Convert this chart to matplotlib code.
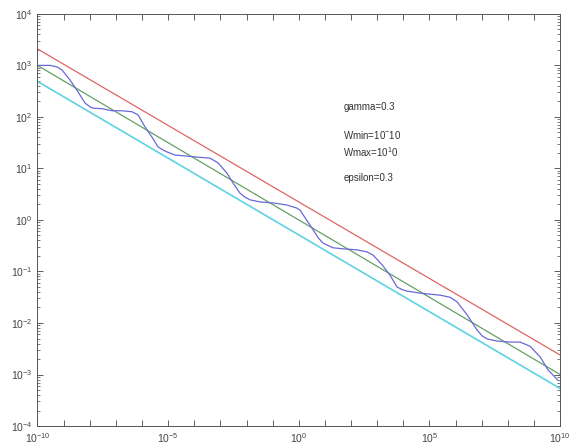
import numpy as np
import matplotlib
matplotlib.use("Agg")
import matplotlib.pyplot as plt
from matplotlib.ticker import FixedLocator, NullLocator, LogLocator

plt.rcParams["font.family"] = ["Liberation Sans", "DejaVu Sans"]
plt.rcParams["mathtext.fontset"] = "custom"
plt.rcParams["mathtext.rm"] = "Liberation Sans"
plt.rcParams["mathtext.default"] = "regular"

# straight bounds, read at both ends (log10 values)
line_log_x = [-10, 10]
red_log_y = [3.32, -2.62]
green_log_y = [3.0, -3.0]
cyan_log_y = [2.69, -3.27]

# oscillating curve (log10 values)
blue_log_x = [-10.0, -9.52, -9.25, -9.06, -8.76, -8.49, -8.18, -8.0, -7.88, -7.53, -7.15, -6.77,
              -6.38, -6.15, -5.89, -5.62, -5.39, -5.2, -5.04, -4.74, -4.28, -3.89, -3.40,
              -3.09, -2.75, -2.52, -2.25, -2.05, -1.86, -1.48, -0.98, -0.45, -0.07, 0.05,
              0.35, 0.55, 0.75, 0.93, 1.31, 1.69, 2.23, 2.61, 2.84, 3.19, 3.49,
              3.76, 3.95, 4.14, 4.64, 5.02, 5.41, 5.79, 6.06, 6.44, 6.83, 7.02, 7.21,
              7.59, 8.09, 8.47, 8.85, 9.24, 9.54, 9.9]
blue_log_y = [3.0, 3.0, 2.97, 2.91, 2.72, 2.52, 2.27, 2.20, 2.17, 2.16, 2.12, 2.12,
              2.10, 2.04, 1.81, 1.61, 1.42, 1.36, 1.32, 1.26, 1.24, 1.22, 1.20,
              1.11, 0.91, 0.72, 0.52, 0.44, 0.39, 0.35, 0.33, 0.29, 0.23, 0.19,
              -0.04, -0.19, -0.35, -0.45, -0.54, -0.56, -0.58, -0.62, -0.68, -0.87, -1.07,
              -1.30, -1.35, -1.38, -1.42, -1.44, -1.46, -1.50, -1.59, -1.84, -2.14, -2.25, -2.31,
              -2.35, -2.37, -2.37, -2.45, -2.66, -2.91, -3.10]

notes = ["gamma=0.3", r"Wmin=10$^{-}$10", r"Wmax=10$^{1}$0", "epsilon=0.3"]
note_y = [0.774, 0.706, 0.665, 0.602]

x_major = [-10, -5, 0, 5, 10]

fig = plt.figure(figsize=(5.73, 4.48), dpi=100)
ax = fig.add_axes([0.0654, 0.049, 0.912, 0.920])

lx = 10.0 ** np.array(line_log_x)
ax.plot(lx, 10.0 ** np.array(red_log_y), color="#e06464", lw=0.9)
ax.plot(lx, 10.0 ** np.array(green_log_y), color="#64a064", lw=0.9)
ax.plot(lx, 10.0 ** np.array(cyan_log_y), color="#5ed2e2", lw=1.2)
ax.plot(10.0 ** np.array(blue_log_x), 10.0 ** np.array(blue_log_y), color="#6868d8", lw=0.9)

ax.set_xscale("log")
ax.set_yscale("log")
ax.set_xlim(1e-10, 1e10)
ax.set_ylim(1e-4, 1e4)

ax.xaxis.set_major_locator(FixedLocator(10.0 ** np.arange(-10, 11)))
ax.xaxis.set_minor_locator(NullLocator())
ax.set_xticklabels([r"$10^{%d}$" % e if e in x_major else "" for e in range(-10, 11)])
ax.yaxis.set_major_locator(FixedLocator(10.0 ** np.arange(-4, 5)))
ax.yaxis.set_minor_locator(LogLocator(base=10, subs=np.arange(2, 10), numticks=20))
ax.set_yticklabels([r"$10^{%d}$" % e for e in range(-4, 5)])

ax.tick_params(which="both", direction="in", top=True, right=True,
               labelsize=7.5, colors="#444444")
ax.tick_params(which="major", length=4, width=0.6)
ax.tick_params(which="minor", length=2, width=0.5)
ax.tick_params(axis="x", pad=4)
for spine in ax.spines.values():
    spine.set_linewidth(0.7)
    spine.set_color("#555555")

for s, y in zip(notes, note_y):
    ax.text(0.585, y, s, transform=ax.transAxes, fontsize=7, va="center", ha="left",
            color="#333333")

fig.savefig("out.png", dpi=100)
